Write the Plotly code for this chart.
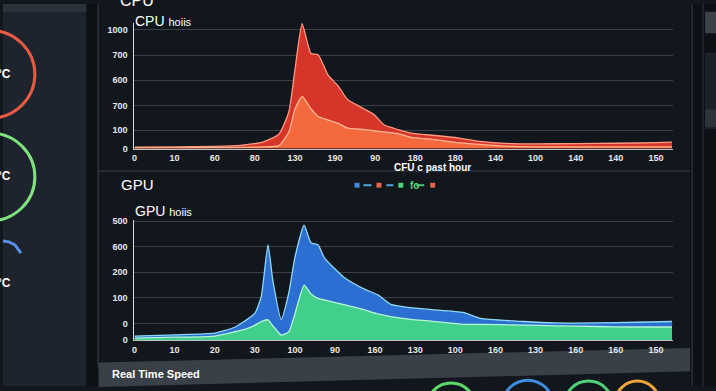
import plotly.graph_objects as go

# ---------------- data ----------------
cpu_x_ticktext = ["0", "10", "60", "80", "130", "190", "90", "180", "180", "140", "100", "140", "140", "150"]
cpu_y_tickvals = [0, 155, 360, 575, 787, 1000]
cpu_y_ticktext = ["0", "100", "700", "600", "700", "1000"]

cpu_x = [0, 1, 2, 2.7, 3.2, 3.6, 3.85, 4.0, 4.18, 4.4, 4.58, 4.83, 5.07, 5.32, 5.72, 5.97,
         6.22, 6.57, 6.9, 7.5, 8.06, 8.6, 9.4, 10, 11, 12, 13, 13.4]
cpu_total = [12, 14, 18, 30, 55, 120, 310, 660, 1050, 800, 790, 615, 530, 410, 335, 287,
             200, 160, 130, 110, 90, 60, 42, 40, 42, 45, 50, 55]
cpu_lower = [5, 6, 8, 10, 14, 25, 140, 330, 440, 335, 270, 240, 213, 172, 160, 150,
             140, 125, 95, 75, 50, 35, 18, 15, 14, 14, 14, 14]

gpu_x_ticktext = ["0", "10", "20", "30", "100", "90", "160", "130", "100", "160", "130", "160", "160", "150"]
gpu_y_tickvals = [0, 70, 178, 285, 393, 500]
gpu_y_ticktext = ["0", "0", "100", "200", "600", "500"]

gpu_x = [0, 1, 2, 2.5, 2.75, 3.0, 3.16, 3.33, 3.45, 3.66, 3.85, 4.0, 4.23, 4.4, 4.58, 4.73,
         5.22, 5.72, 6.07, 6.39, 6.89, 7.4, 8.2, 8.63, 9.7, 10.5, 11.5, 12.5, 13.4]
gpu_total = [17, 22, 29, 54, 80, 112, 182, 400, 250, 87, 200, 347, 483, 409, 400, 347,
             264, 215, 190, 150, 136, 128, 116, 91, 78, 72, 72, 75, 78]
gpu_lower = [8, 12, 17, 35, 45, 62, 78, 85, 60, 21, 35, 110, 231, 194, 175, 169,
             149, 128, 110, 99, 87, 80, 66, 66, 63, 60, 57, 55, 55]

# ---------------- helpers ----------------
W, H = 716, 391
FONT = "Liberation Sans"


def px(x):
    return x / W


def py(y):
    return 1 - y / H


fig = go.Figure()

# CPU areas
fig.add_trace(go.Scatter(x=cpu_x, y=cpu_total, xaxis="x", yaxis="y", mode="lines",
                         fill="tozeroy", fillcolor="#d6362a",
                         line=dict(color="#ff9a80", width=1.3, shape="spline", smoothing=0.5),
                         hoverinfo="skip", showlegend=False))
fig.add_trace(go.Scatter(x=cpu_x, y=cpu_lower, xaxis="x", yaxis="y", mode="lines",
                         fill="tozeroy", fillcolor="#f46a3e",
                         line=dict(color="#ffb894", width=1.3, shape="spline", smoothing=0.5),
                         hoverinfo="skip", showlegend=False))
# GPU areas
fig.add_trace(go.Scatter(x=gpu_x, y=gpu_total, xaxis="x2", yaxis="y2", mode="lines",
                         fill="tozeroy", fillcolor="#2b6fd2",
                         line=dict(color="#8fd8f4", width=1.3, shape="spline", smoothing=0.5),
                         hoverinfo="skip", showlegend=False))
fig.add_trace(go.Scatter(x=gpu_x, y=gpu_lower, xaxis="x2", yaxis="y2", mode="lines",
                         fill="tozeroy", fillcolor="#40d08c",
                         line=dict(color="#b8f5d2", width=1.3, shape="spline", smoothing=0.5),
                         hoverinfo="skip", showlegend=False))

xdom = [px(132), px(673)]
xr = [0, 13.43]
tickfont = dict(family=FONT, size=9, color="#e8e8e8", weight="bold")

common_x = dict(range=xr, domain=xdom, tickmode="array", tickvals=list(range(14)),
                showgrid=False, zeroline=False, showline=True, linecolor="#bfc3c8",
                linewidth=1, ticks="", tickfont=tickfont, ticklabelstandoff=1, fixedrange=True)
common_y = dict(tickmode="array", showgrid=True, gridcolor="#3a3f47", gridwidth=1,
                zeroline=False, showline=True, linecolor="#d8dadc", linewidth=1, ticks="",
                tickfont=tickfont, ticklabelstandoff=4, fixedrange=True)

fig.update_layout(
    width=W, height=H, margin=dict(l=0, r=0, t=0, b=0),
    paper_bgcolor="#12161d", plot_bgcolor="rgba(0,0,0,0)",
    xaxis=dict(**common_x, anchor="y", ticktext=cpu_x_ticktext),
    yaxis=dict(**common_y, anchor="x", domain=[py(148), py(19)], range=[0, 1060],
               tickvals=cpu_y_tickvals, ticktext=cpu_y_ticktext),
    xaxis2=dict(**common_x, anchor="y2", ticktext=gpu_x_ticktext),
    yaxis2=dict(**common_y, anchor="x2", domain=[py(344), py(221)], range=[0, 505],
                tickvals=gpu_y_tickvals, ticktext=gpu_y_ticktext),
)

shapes = []


def rect(x0, y0, x1, y1, color, line=None, layer="below"):
    shapes.append(dict(type="rect", xref="paper", yref="paper", x0=px(x0), x1=px(x1),
                       y0=py(y1), y1=py(y0), fillcolor=color,
                       line=dict(width=0) if line is None else line, layer=layer))


def hline(x0, x1, y, color, w=1, layer="below"):
    shapes.append(dict(type="line", xref="paper", yref="paper", x0=px(x0), x1=px(x1),
                       y0=py(y), y1=py(y), line=dict(color=color, width=w), layer=layer))


def vline(x, y0, y1, color, w=1, layer="below"):
    shapes.append(dict(type="line", xref="paper", yref="paper", x0=px(x), x1=px(x),
                       y0=py(y0), y1=py(y1), line=dict(color=color, width=w), layer=layer))


def circle(cx, cy, r, color, w=3):
    shapes.append(dict(type="circle", xref="paper", yref="paper",
                       x0=px(cx - r), x1=px(cx + r), y0=py(cy + r), y1=py(cy - r),
                       line=dict(color=color, width=w), layer="above"))


def path(points, fill=None, color=None, w=0, closed=True, layer="below"):
    d = "M " + " L ".join(f"{px(a):.5f},{py(b):.5f}" for a, b in points)
    if closed:
        d += " Z"
    s = dict(type="path", xref="paper", yref="paper", path=d, layer=layer,
             line=dict(color=color or "rgba(0,0,0,0)", width=w))
    if fill:
        s["fillcolor"] = fill
    shapes.append(s)


# left panel
rect(0, 0, 84, 391, "#1d242d")
rect(0, 0, 84, 8, "#2c333c")
rect(84, 0, 95, 391, "#0d1116")
vline(95.5, 0, 372, "#2e343c", 1.5)
# right side
rect(690, 0, 716, 391, "#0d1116")
vline(692, 0, 391, "#2b3138", 1.5)
vline(703, 0, 391, "#232930", 1.5)
rect(705, 8, 716, 30, "#3c4249")
rect(705, 50, 716, 128, "#1c2229")
rect(705, 108, 716, 126, "#2e343b")
# separators
hline(96, 690, 171, "#2c323a", 1.5)
# bottom gray bar (tilted)
path([(96, 367), (690, 352), (690, 376), (96, 392)], fill="#3a4048")

# left gauges
circle(-13, 72, 45, "#e85a43", 3)
circle(-13, 177, 45, "#7fe27f", 3)
path([(0, 242.5), (6, 243.5), (12, 246.5), (18, 255)], color="#5a8ee6", w=3, closed=False,
     layer="above")
# bottom partial rings
circle(450, 412, 24, "#5fd86a", 3)
circle(527, 410, 25, "#3f8ee2", 3)
circle(588, 410, 24, "#4fd07a", 3)
circle(637, 408, 22, "#f0a43a", 3)

# legend row
leg_y = 185.5
rect(353, 183, 358, 188, "#3d8ae6", layer="above")
hline(362, 370, leg_y, "#49a6dc", 2, layer="above")
rect(375, 183, 380, 188, "#e8654b", layer="above")
hline(385, 392, leg_y, "#49a6dc", 2, layer="above")
rect(397, 183, 402, 188, "#4cd67a", layer="above")
hline(415, 423, leg_y, "#49c27a", 2, layer="above")
rect(429, 183, 434, 188, "#e8654b", layer="above")

fig.update_layout(shapes=shapes)

ann = []


def text(x, y, s, size, color="#ffffff", anchor="left", weight="normal"):
    ann.append(dict(xref="paper", yref="paper", x=px(x), y=py(y), text=s, showarrow=False,
                    xanchor=anchor, yanchor="middle",
                    font=dict(family=FONT, size=size, color=color, weight=weight)))


text(115, -4, "CPU", 16)
text(131, 17, "CPU <span style='font-size:11px'>hoiis</span>", 14)
text(391, 167, "CFU c past hour", 10, weight="bold")
text(116, 185, "GPU", 15)
text(131, 212, "GPU <span style='font-size:11px'>hoiis</span>", 14)
text(407, 186, "fo", 10, color="#5ad67f", weight="bold")
text(107, 379, "Real Time Speed", 11, weight="bold")
text(10, 72, "°C", 12, anchor="right", weight="bold")
text(10, 176, "°C", 12, anchor="right", weight="bold")
text(10, 286, "°C", 12, anchor="right", weight="bold")

fig.update_layout(annotations=ann)

fig.write_html("out.html", config={"displayModeBar": False},
               post_script="document.body.style.margin='0px';document.body.style.overflow='hidden';")
